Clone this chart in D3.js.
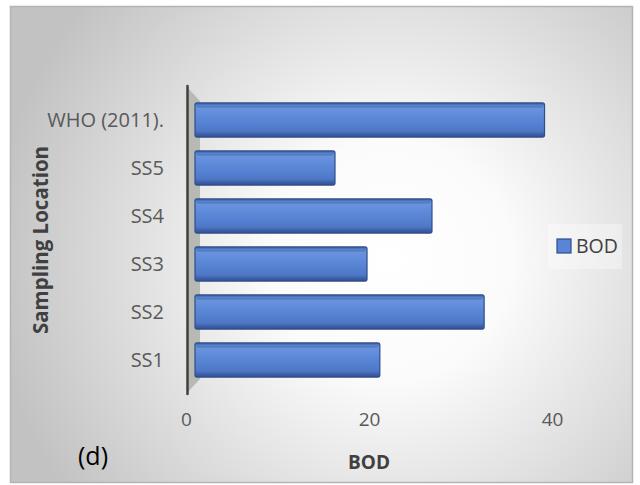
<!DOCTYPE html>
<html><head><meta charset="utf-8">
<script src="https://cdn.jsdelivr.net/npm/d3@7"></script>
<style>html,body{margin:0;padding:0;background:#fff;}svg{display:block;}</style>
</head><body>
<script>
const categories = ["WHO (2011).", "SS5", "SS4", "SS3", "SS2", "SS1"];
const bodValues = [38.2, 15.3, 25.9, 18.8, 31.6, 20.2];
const xTicks = [0, 20, 40];
const seriesName = "BOD";
const xTitle = "BOD";
const yTitle = "Sampling Location";
const panelLabel = "(d)";

const W = 640, H = 485;
const svg = d3.select("body").append("svg").attr("width", W).attr("height", H);
const defs = svg.append("defs");

const bg = defs.append("radialGradient").attr("id", "bg")
  .attr("gradientUnits", "userSpaceOnUse").attr("cx", 390).attr("cy", 260).attr("r", 400);
bg.append("stop").attr("offset", "0").attr("stop-color", "#ffffff");
bg.append("stop").attr("offset", "0.3").attr("stop-color", "#fbfbfb");
bg.append("stop").attr("offset", "1").attr("stop-color", "#c2c2c2");

const bar = defs.append("linearGradient").attr("id", "barg").attr("x1", 0).attr("y1", 0).attr("x2", 0).attr("y2", 1);
bar.append("stop").attr("offset", "0").attr("stop-color", "#3a5fa6");
bar.append("stop").attr("offset", "0.12").attr("stop-color", "#6b95de");
bar.append("stop").attr("offset", "0.5").attr("stop-color", "#5a85d6");
bar.append("stop").attr("offset", "0.82").attr("stop-color", "#4e77c7");
bar.append("stop").attr("offset", "1").attr("stop-color", "#2f4f8e");

svg.append("rect").attr("x", 10.5).attr("y", 6.5).attr("width", 622).attr("height", 476)
  .attr("fill", "url(#bg)").attr("stroke", "#b4b4b4").attr("stroke-width", 1.5);

const x = d3.scaleLinear().domain([0, 40]).range([186, 552]);
const y = d3.scaleBand().domain(categories).range([96, 384]).paddingInner(0.29).paddingOuter(0.145);
const dx = 9;

// 3D wall
const wall = svg.append("g");
wall.append("polygon")
  .attr("points", [[187, 87], [200, 101], [200, 379], [187, 393]].map(p => p.join(",")).join(" "))
  .attr("fill", "#b9b9b4");
wall.append("line").attr("x1", 187.5).attr("x2", 187.5).attr("y1", 86).attr("y2", 394)
  .attr("stroke", "#3e4040").attr("stroke-width", 2.5).attr("stroke-linecap", "round");

// bars
const g = svg.append("g");
const bars = g.selectAll("g.bar").data(categories.map((c, i) => ({c, v: bodValues[i]}))).enter().append("g");
bars.append("rect")
  .attr("x", x(0) + dx).attr("y", d => y(d.c))
  .attr("width", d => x(d.v) - x(0)).attr("height", y.bandwidth())
  .attr("rx", 2)
  .attr("fill", "url(#barg)").attr("stroke", "#2e4e8c").attr("stroke-width", 1.2);
bars.append("line")
  .attr("x1", x(0) + dx + 2).attr("x2", d => x(d.v) + dx - 2)
  .attr("y1", d => y(d.c) + 4).attr("y2", d => y(d.c) + 4)
  .attr("stroke", "#3c62aa").attr("stroke-width", 1).attr("opacity", 0.7);

// axes
const xAxis = svg.append("g").attr("transform", "translate(0,410)")
  .call(d3.axisBottom(x).tickValues(xTicks).tickSize(0).tickPadding(0).tickFormat(d3.format("d")));
xAxis.select(".domain").remove();
xAxis.selectAll("text").attr("dy", "0.71em").attr("y", 2)
  .attr("font-family", "Open Sans").attr("font-size", 19).attr("fill", "#595959");

const yAxis = svg.append("g").attr("transform", "translate(164,0)")
  .call(d3.axisLeft(y).tickSize(0).tickPadding(0));
yAxis.select(".domain").remove();
yAxis.selectAll("text").attr("dy", "0.35em")
  .attr("font-family", "Open Sans").attr("font-size", 20).attr("fill", "#595959");

svg.append("text").attr("x", 369).attr("y", 469).attr("text-anchor", "middle")
  .attr("font-family", "Open Sans").attr("font-weight", "bold").attr("font-size", 19).attr("fill", "#404040")
  .text(xTitle);

svg.append("text").attr("transform", "translate(48,240) rotate(-90)").attr("text-anchor", "middle")
  .attr("font-family", "Open Sans").attr("font-weight", "bold").attr("font-size", 20.5).attr("fill", "#404040")
  .text(yTitle);

svg.append("text").attr("x", 93).attr("y", 465).attr("text-anchor", "middle")
  .attr("font-family", "Open Sans").attr("font-size", 25).attr("fill", "#000")
  .text(panelLabel);

// legend
const lg = svg.append("g");
lg.append("rect").attr("x", 548).attr("y", 224).attr("width", 74).attr("height", 45)
  .attr("fill", "#ffffff").attr("opacity", 0.35);
lg.append("rect").attr("x", 557).attr("y", 239).attr("width", 14).attr("height", 14)
  .attr("fill", "#5a85d6").attr("stroke", "#2e4e8c").attr("stroke-width", 1.2);
lg.append("text").attr("x", 576).attr("y", 246).attr("dy", "0.35em")
  .attr("font-family", "Open Sans").attr("font-size", 19.5).attr("fill", "#404040")
  .text(seriesName);
</script>
</body></html>
